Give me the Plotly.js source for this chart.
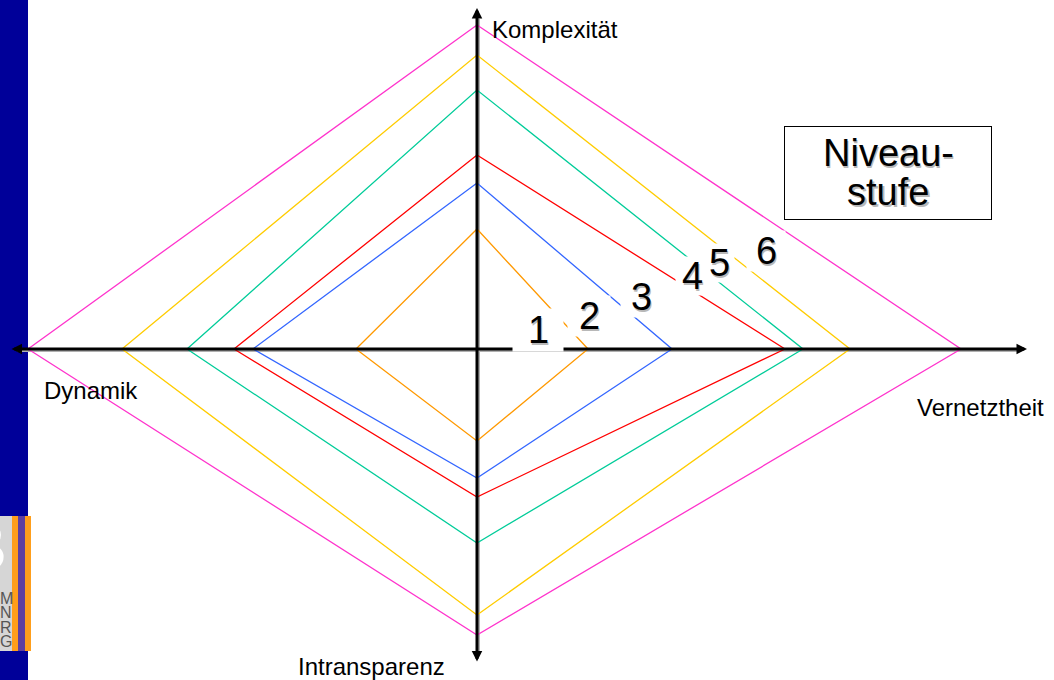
<!DOCTYPE html>
<html>
<head>
<meta charset="utf-8">
<script src="https://cdn.plot.ly/plotly-3.0.1.min.js"></script>
<style>html,body{margin:0;padding:0;background:#fff;overflow:hidden;}</style>
</head>
<body>
<div id="chart" style="width:1054px;height:680px;"></div>
<script>
// Ausdehnung der Niveaustufen auf den vier Achsen
const levelNames = ['Stufe A', 'Stufe B', 'Stufe C', 'Stufe D', 'Stufe E', 'Stufe F'];
const komplexitaet = [120, 166, 194, 259, 294, 324];
const vernetztheit = [111, 195, 308, 326, 373, 484];
const intransparenz = [92, 129, 148, 194, 266, 286];
const dynamik = [121, 224, 243, 290, 355, 449];
const levelColors = ['#ff9900', '#3366ff', '#ff0000', '#00cc99', '#ffcc00', '#ff33cc'];
const stufenLabels = ['1', '2', '3', '4', '5', '6'];
const axisNames = ['Komplexität', 'Vernetztheit', 'Intransparenz', 'Dynamik'];

const FONT = 'Liberation Sans, Arial, sans-serif';
const SHADOW = '#b8b8b8';

// one closed diamond per level
const traces = levelNames.map((name, i) => ({
    x: [-dynamik[i], 0, vernetztheit[i], 0, -dynamik[i]],
    y: [0, komplexitaet[i], 0, -intransparenz[i], 0],
    name: name,
    type: 'scatter',
    mode: 'lines',
    line: { color: levelColors[i], width: 1.3 },
    hoverinfo: 'skip'
}));

// label placement (pixel offsets from the centre) and size of the white box behind
const labelPos = [[61, 19], [112, 33], [164, 52], [215, 73], [242, 86], [289, 98]];
const labelBox = [[48, 40], [40, 38], [38, 38], [30, 36], [28, 36], [36, 38]];

const annotations = [];

// axes with arrow heads
annotations.push({
    x: 550, y: 0, ax: -467, ay: 0, axref: 'x', ayref: 'y', xref: 'x', yref: 'y',
    text: '', showarrow: true, arrowside: 'end+start', arrowhead: 2,
    arrowwidth: 3, arrowsize: 0.7, arrowcolor: '#000'
});
annotations.push({
    x: 0, y: 341, ax: 0, ay: -314, axref: 'x', ayref: 'y', xref: 'x', yref: 'y',
    text: '', showarrow: true, arrowside: 'end+start', arrowhead: 2,
    arrowwidth: 3, arrowsize: 0.7, arrowcolor: '#000'
});

// axis names
const axisLabelCfg = [
    { x: 13, y: 320, xanchor: 'left' },
    { x: 438, y: -58, xanchor: 'left' },
    { x: -181, y: -317, xanchor: 'left' },
    { x: -435, y: -41, xanchor: 'left' }
];
axisNames.forEach((t, i) => {
    annotations.push(Object.assign({
        text: t, showarrow: false, xref: 'x', yref: 'y', yanchor: 'middle',
        font: { family: FONT, size: 24, color: '#000' }
    }, axisLabelCfg[i]));
});

// level numbers: all white boxes first, then grey shadows, then black text
stufenLabels.forEach((t, i) => {
    const [px, py] = labelPos[i];
    annotations.push({
        x: px, y: py, text: ' ', showarrow: false, xref: 'x', yref: 'y',
        bgcolor: '#fff', width: labelBox[i][0], height: labelBox[i][1],
        font: { family: FONT, size: 12, color: '#fff' }
    });
});
stufenLabels.forEach((t, i) => {
    const [px, py] = labelPos[i];
    annotations.push({
        x: px, y: py, text: t, showarrow: false, xref: 'x', yref: 'y',
        xshift: 1.5, yshift: -1.5,
        font: { family: FONT, size: 38, color: SHADOW }
    });
});
stufenLabels.forEach((t, i) => {
    const [px, py] = labelPos[i];
    annotations.push({
        x: px, y: py, text: t, showarrow: false, xref: 'x', yref: 'y',
        font: { family: FONT, size: 38, color: '#000' }
    });
});

// "Niveaustufe" box
annotations.push({
    x: 411, y: 176, text: ' ', showarrow: false, xref: 'x', yref: 'y',
    width: 204, height: 90, bgcolor: '#fff', bordercolor: '#000', borderwidth: 1,
    font: { family: FONT, size: 12 }
});
[['Niveau-', 196], ['stufe', 157]].forEach(([t, y]) => {
    annotations.push({
        x: 411, y: y, text: t, showarrow: false, xref: 'x', yref: 'y',
        height: 38, borderpad: 0,
        xshift: 1.5, yshift: -1.5, font: { family: FONT, size: 38, color: SHADOW }
    });
    annotations.push({
        x: 411, y: y, text: t, showarrow: false, xref: 'x', yref: 'y',
        height: 38, borderpad: 0,
        font: { family: FONT, size: 38, color: '#000' }
    });
});

// logo in the side bar
annotations.push({
    x: -468, y: -198, text: 'B', showarrow: false, xref: 'x', yref: 'y',
    xanchor: 'right', font: { family: FONT, size: 66, color: '#fff' }
});
['M', 'N', 'R', 'G'].forEach((t, i) => {
    annotations.push({
        x: -471, y: -249 - i * 14.5, text: t, showarrow: false, xref: 'x', yref: 'y',
        height: 13, borderpad: 0,
        font: { family: FONT, size: 16, color: '#555' }
    });
});

const shapes = [
    // blue side bar
    { type: 'rect', xref: 'x', yref: 'y', x0: -477, x1: -449, y0: -331, y1: 349,
      fillcolor: '#000099', line: { width: 0 }, layer: 'below' },
    // logo
    { type: 'rect', xref: 'x', yref: 'y', x0: -477, x1: -465, y0: -302, y1: -167,
      fillcolor: '#d6d6d6', line: { width: 0 }, layer: 'below' },
    { type: 'rect', xref: 'x', yref: 'y', x0: -465, x1: -459, y0: -302, y1: -167,
      fillcolor: '#ff9e1b', line: { width: 0 }, layer: 'below' },
    { type: 'rect', xref: 'x', yref: 'y', x0: -459, x1: -452, y0: -302, y1: -167,
      fillcolor: '#5f3f9f', line: { width: 0 }, layer: 'below' },
    { type: 'rect', xref: 'x', yref: 'y', x0: -452, x1: -446, y0: -302, y1: -167,
      fillcolor: '#ff9e1b', line: { width: 0 }, layer: 'below' },
    // axis shadows
    { type: 'line', xref: 'x', yref: 'y', x0: -460, x1: 540, y0: -2, y1: -2,
      line: { color: '#b0b0b0', width: 2 }, layer: 'below' },
    { type: 'line', xref: 'x', yref: 'y', x0: 2, x1: 2, y0: 330, y1: -305,
      line: { color: '#b0b0b0', width: 2 }, layer: 'below' }
];

const layout = {
    width: 1054,
    height: 680,
    margin: { t: 0, b: 0, l: 0, r: 0 },
    showlegend: false,
    paper_bgcolor: '#fff',
    plot_bgcolor: '#fff',
    xaxis: { range: [-477, 577], visible: false, fixedrange: true },
    yaxis: { range: [-331, 349], visible: false, fixedrange: true },
    annotations: annotations,
    shapes: shapes
};

Plotly.newPlot('chart', traces, layout, { displayModeBar: false, staticPlot: true });
</script>
</body>
</html>
